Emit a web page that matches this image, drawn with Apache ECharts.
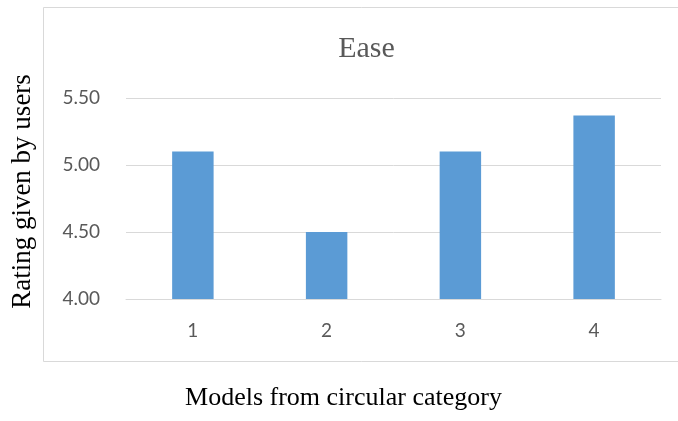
<!DOCTYPE html>
<html>
<head>
<meta charset="utf-8">
<script src="https://cdn.jsdelivr.net/npm/echarts@6/dist/echarts.min.js"></script>
<style>html,body{margin:0;padding:0;background:#fff;}#c{width:678px;height:421px;}</style>
</head>
<body>
<div id="c"></div>
<script>
const categories = ['1', '2', '3', '4'];
const easeValues = [5.10, 4.50, 5.10, 5.37];
const yTicks = [4.00, 4.50, 5.00, 5.50];
const chartTitle = 'Ease';
const yName = 'Rating given by users';
const xName = 'Models from circular category';

const chart = echarts.init(document.getElementById('c'), null, {renderer: 'canvas'});
chart.setOption({
  animation: false,
  backgroundColor: '#fff',
  grid: {left: 126, right: 17, top: 98, bottom: 122},
  xAxis: {
    type: 'category',
    data: categories,
    axisLine: {show: true, lineStyle: {color: '#d9d9d9', width: 1}},
    axisTick: {show: false},
    axisLabel: {color: '#595959', fontFamily: 'Lato', fontSize: 19, margin: 22}
  },
  yAxis: {
    type: 'value',
    min: yTicks[0],
    max: yTicks[yTicks.length - 1],
    interval: 0.5,
    axisLine: {show: false},
    axisTick: {show: false},
    splitLine: {lineStyle: {color: '#d9d9d9', width: 1}},
    axisLabel: {color: '#595959', fontFamily: 'Lato', fontSize: 19, margin: 26,
      formatter: v => v.toFixed(2)}
  },
  series: [{
    type: 'bar',
    data: easeValues,
    barWidth: '31%',
    itemStyle: {color: '#5b9bd5'}
  }],
  graphic: [
    {type: 'rect', silent: true, z: -1,
      shape: {x: 43.5, y: 7.5, width: 700, height: 354},
      style: {fill: 'none', stroke: '#d9d9d9', lineWidth: 1}},
    {type: 'text', x: 366.5, y: 49,
      style: {text: chartTitle, fill: '#595959', font: '30px "Liberation Serif"', align: 'center', verticalAlign: 'middle'}},
    {type: 'text', x: 23, y: 191.5, rotation: Math.PI / 2,
      style: {text: yName, fill: '#000', font: '27px "Liberation Serif"', align: 'center', verticalAlign: 'middle'}},
    {type: 'text', x: 343.5, y: 398,
      style: {text: xName, fill: '#000', font: '26px "Liberation Serif"', align: 'center', verticalAlign: 'middle'}}
  ]
});
</script>
</body>
</html>
